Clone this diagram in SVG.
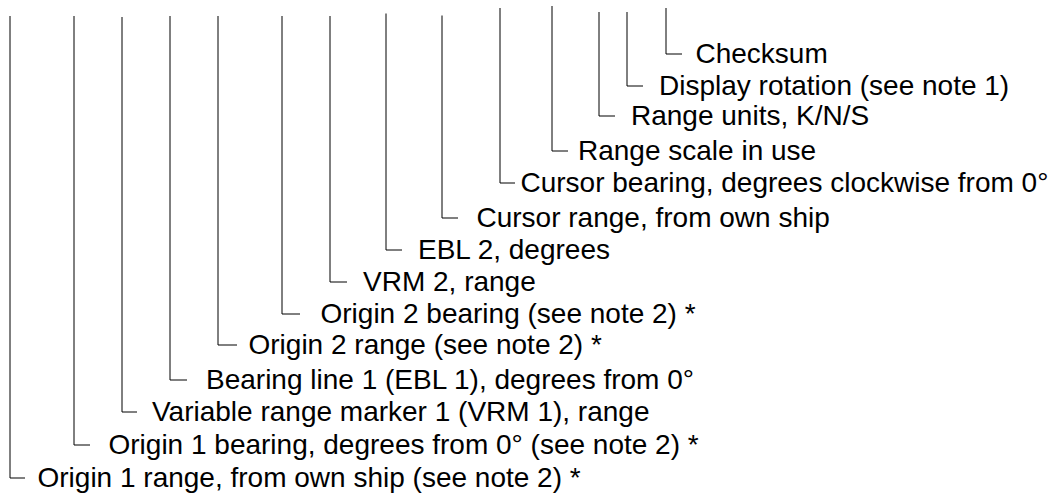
<svg xmlns="http://www.w3.org/2000/svg" width="1051" height="493" viewBox="0 0 1051 493">
<style>
.c{fill:none;stroke:#000;stroke-width:1}
.t{font-family:"Liberation Sans",Arial,sans-serif;font-size:28px;fill:#000}
</style>
<rect width="1051" height="493" fill="#fff"/>
<g id="connectors">
<path class="c" d="M10,16V478H25"/>
<path class="c" d="M74,16V445H90"/>
<path class="c" d="M122,17V412H137"/>
<path class="c" d="M170,16V380H187"/>
<path class="c" d="M218,16V345H237"/>
<path class="c" d="M282,16V314H300"/>
<path class="c" d="M330,16V282H347"/>
<path class="c" d="M386,13.5V250H402"/>
<path class="c" d="M442,15.5V218H458"/>
<path class="c" d="M500,8V183H515"/>
<path class="c" d="M552,6V151H568"/>
<path class="c" d="M599,12V116H615"/>
<path class="c" d="M627,12V86H643"/>
<path class="c" d="M666,8V54H682"/>
</g>
<g id="checksum"><text class="t" x="695.5" y="63">Checksum</text></g>
<g id="display-rotation"><text class="t" x="659" y="95">Display rotation (see note 1)</text></g>
<g id="range-units"><text class="t" x="631" y="125">Range units, K/N/S</text></g>
<g id="range-scale"><text class="t" x="578" y="160">Range scale in use</text></g>
<g id="cursor-bearing"><text class="t" x="520.5" y="192">Cursor bearing, degrees clockwise from 0°</text></g>
<g id="cursor-range"><text class="t" x="476.5" y="227">Cursor range, from own ship</text></g>
<g id="ebl2"><text class="t" x="418" y="259">EBL 2, degrees</text></g>
<g id="vrm2"><text class="t" x="363" y="291">VRM 2, range</text></g>
<g id="origin2-bearing"><text class="t" x="320.5" y="323">Origin 2 bearing (see note 2) *</text></g>
<g id="origin2-range"><text class="t" x="248.5" y="354">Origin 2 range (see note 2) *</text></g>
<g id="ebl1"><text class="t" x="206" y="389">Bearing line 1 (EBL 1), degrees from 0°</text></g>
<g id="vrm1"><text class="t" x="152" y="421">Variable range marker 1 (VRM 1), range</text></g>
<g id="origin1-bearing"><text class="t" x="108.5" y="454">Origin 1 bearing, degrees from 0° (see note 2) *</text></g>
<g id="origin1-range"><text class="t" x="37.5" y="487">Origin 1 range, from own ship (see note 2) *</text></g>
</svg>
